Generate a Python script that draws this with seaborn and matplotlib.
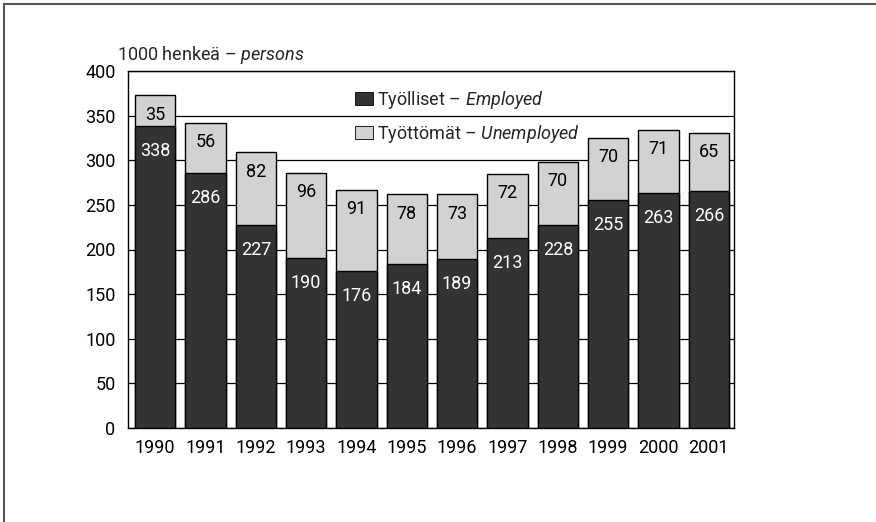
import matplotlib
matplotlib.use('Agg')
import matplotlib.pyplot as plt
import seaborn as sns
import pandas as pd
from matplotlib.lines import Line2D
from matplotlib.patches import Patch

years = ['1990', '1991', '1992', '1993', '1994', '1995',
         '1996', '1997', '1998', '1999', '2000', '2001']
employed = [338, 286, 227, 190, 176, 184, 189, 213, 228, 255, 263, 266]
unemployed = [35, 56, 82, 96, 91, 78, 73, 72, 70, 70, 71, 65]
yticks = [0, 50, 100, 150, 200, 250, 300, 350, 400]

dark = '#333333'
light = '#d2d2d2'
fs = 13

sns.set_style('white')
font = ['Roboto', 'DejaVu Sans']
plt.rcParams['font.family'] = font
plt.rcParams['mathtext.fontset'] = 'custom'
plt.rcParams['mathtext.rm'] = 'Roboto'
plt.rcParams['mathtext.it'] = 'Roboto:italic'

df = pd.DataFrame({'year': years, 'employed': employed,
                   'unemployed': unemployed})
df['total'] = df.employed + df.unemployed

fig = plt.figure(figsize=(8.76, 5.22), dpi=100)
ax = fig.add_axes([128 / 876, 94 / 522, 606 / 876, 357 / 522])

# stacked bars: totals first, employed drawn over them
sns.barplot(data=df, x='year', y='total', color=light, edgecolor='black',
            linewidth=1, width=0.8, saturation=1, ax=ax, zorder=2)
sns.barplot(data=df, x='year', y='employed', color=dark, edgecolor='black',
            linewidth=1, width=0.8, saturation=1, ax=ax, zorder=3)

for i, row in df.iterrows():
    ax.annotate(str(row.employed), (i, row.employed), xytext=(0, -18),
                textcoords='offset points', ha='center', va='center',
                color='white', fontsize=fs, zorder=4)
    ax.annotate(str(row.unemployed), (i, row.total), xytext=(0, -14),
                textcoords='offset points', ha='center', va='center',
                color='black', fontsize=fs, zorder=4)

ax.set_xlim(-0.54, 11.5)
ax.set_ylim(0, 400)
ax.set_yticks(yticks)
ax.set_xlabel('')
ax.set_ylabel('')
ax.yaxis.grid(True, color='black', linewidth=0.9)
ax.set_axisbelow(True)
ax.tick_params(axis='both', length=0, labelsize=fs, colors='black')
ax.tick_params(axis='y', pad=9)
ax.tick_params(axis='x', pad=8)
for s in ax.spines.values():
    s.set_visible(True)
    s.set_color('black')
    s.set_linewidth(1)

handles = [Patch(facecolor=dark, edgecolor='black', linewidth=0.6),
           Patch(facecolor=light, edgecolor='black', linewidth=0.6)]
labels = [r'Työlliset – $Employed$', r'Työttömät – $Unemployed$']
ax.legend(handles, labels, loc='upper left', bbox_to_anchor=(0.36, 0.975),
          frameon=False, fontsize=fs, handlelength=1.0, handleheight=0.7,
          handletextpad=0.2, labelspacing=0.65, borderpad=0)

fig.text(117 / 876, 1 - 55 / 522, r'1000 henkeä – $persons$', fontsize=fs,
         ha='left', va='center')

# scanned page border
fig.add_artist(Line2D([4 / 876, 1], [1 - 4 / 522, 1 - 4 / 522],
                      transform=fig.transFigure, color='#555555', lw=1.5))
fig.add_artist(Line2D([4 / 876, 4 / 876], [0, 1 - 4 / 522],
                      transform=fig.transFigure, color='#555555', lw=1.5))

fig.savefig('out.png', dpi=100)
